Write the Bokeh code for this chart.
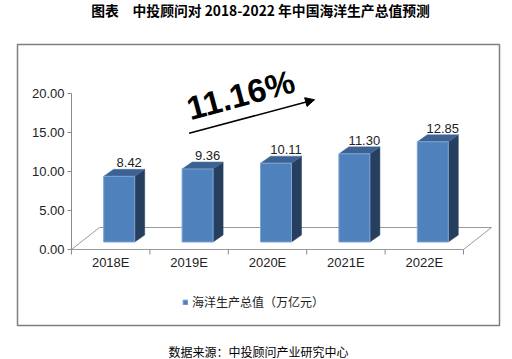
from bokeh.plotting import figure
from bokeh.models import Range1d, Arrow, NormalHead, Legend, LegendItem
from bokeh.core.properties import value
from bokeh.embed import file_html
from bokeh.resources import INLINE

# ---- data ----
categories = ["2018E", "2019E", "2020E", "2021E", "2022E"]
values = [8.42, 9.36, 10.11, 11.30, 12.85]
y_ticks = [0, 5, 10, 15, 20]
series_name = "海洋生产总值（万亿元）"
title_text = "图表　中投顾问对 2018-2022 年中国海洋生产总值预测"
source_text = "数据来源：中投顾问产业研究中心"
growth_text = "11.16%"
# growth arrow (category index, value)
arrow_start = (1.00, 14.9)
arrow_end = (2.60, 19.2)
growth_pos = (0.98, 18.0)

# ---- layout / scale ----
W, H = 512, 359
PX_PER_CAT = 78.4
PX_PER_VAL = 7.8
AX_X = 71      # screen x of value axis
AX_Y = 249     # screen y of zero line

def U(px):
    return (px - AX_X) / PX_PER_CAT - 0.5

def V(py):
    return (AX_Y - py) / PX_PER_VAL

def du(dpx):
    return dpx / PX_PER_CAT

def dv(dpx):
    return dpx / PX_PER_VAL

FONT = value("Liberation Sans")
CJK = value("Noto Sans CJK SC")

p = figure(width=W, height=H, output_backend="svg", toolbar_location=None,
           x_range=Range1d(U(0), U(W)), y_range=Range1d(V(H), V(0)),
           min_border=0)
p.axis.visible = False
p.grid.visible = False
p.outline_line_color = None
p.background_fill_color = "white"
p.styles = {"position": "absolute", "top": "0px", "left": "0px"}

# outer frame
p.quad(left=[U(17)], right=[U(499)], top=[V(44)], bottom=[V(325)],
       fill_color=None, line_color="#7f7f7f", line_width=1.5)

# floor (3D base)
DEP_X, DEP_Y = 28, 22
n = len(categories)
xl, xr = -0.5, n - 0.5
p.multi_line(xs=[[xl, xr], [xr, xr + du(DEP_X)], [xl + du(DEP_X), xr + du(DEP_X)], [xl, xl + du(DEP_X)]],
             ys=[[0, 0], [0, dv(DEP_Y)], [dv(DEP_Y), dv(DEP_Y)], [0, dv(DEP_Y)]],
             line_color="#9a9a9a", line_width=1)

# value axis
p.segment(x0=[xl], y0=[y_ticks[0]], x1=[xl], y1=[y_ticks[-1]], line_color="#8a8a8a", line_width=1)
p.segment(x0=[xl - du(4)] * len(y_ticks), y0=y_ticks, x1=[xl] * len(y_ticks), y1=y_ticks,
          line_color="#8a8a8a", line_width=1)
p.text(x=[xl - du(7)] * len(y_ticks), y=y_ticks, text=["%.2f" % t for t in y_ticks],
       text_align="right", text_baseline="middle", text_font=FONT,
       text_font_size="13px", text_color="#222222")

# category axis ticks + labels
bounds = [i - 0.5 for i in range(n + 1)]
p.segment(x0=bounds, y0=[0] * len(bounds), x1=bounds, y1=[-dv(5)] * len(bounds),
          line_color="#8a8a8a", line_width=1)
p.text(x=list(range(n)), y=[-dv(13)] * n, text=categories, text_align="center",
       text_baseline="middle", text_font=FONT, text_font_size="13px", text_color="#222222")

# 3D bars
FX, FY = 8.5, 7.5     # front face offset
BX, BY = 10, 7        # bar depth
HW = 15.5             # half width px
front_xs, front_ys, top_xs, top_ys, side_xs, side_ys = [], [], [], [], [], []
for i, v in enumerate(values):
    L = i + du(FX - HW)
    R = i + du(FX + HW)
    B = dv(FY)
    T = v + dv(FY)
    front_xs.append([L, R, R, L]); front_ys.append([B, B, T, T])
    top_xs.append([L, R, R + du(BX), L + du(BX)]); top_ys.append([T, T, T + dv(BY), T + dv(BY)])
    side_xs.append([R, R + du(BX), R + du(BX), R]); side_ys.append([T, T + dv(BY), B + dv(BY), B])

side = p.patches(side_xs, side_ys, fill_color="#263F5F", line_color="#263F5F", line_width=0.5)
top = p.patches(top_xs, top_ys, fill_color="#3C6294", line_color="#4A70A3", line_width=0.5)
front = p.patches(front_xs, front_ys, fill_color="#4F81BD", line_color="#7FA3D3", line_width=1)

# value labels
p.text(x=[i + du(FX + BX) for i in range(n)], y=[v + dv(FY + BY + 2) for v in values],
       text=["%.2f" % v for v in values], text_align="center", text_baseline="bottom",
       text_font=FONT, text_font_size="13px", text_color="#222222")

# growth arrow and label
p.add_layout(Arrow(end=NormalHead(size=9, fill_color="black", line_color="black"),
                   x_start=arrow_start[0], y_start=arrow_start[1],
                   x_end=arrow_end[0], y_end=arrow_end[1],
                   line_color="black", line_width=1.5))
p.text(x=[growth_pos[0]], y=[growth_pos[1]], text=[growth_text], angle=15, angle_units="deg",
       text_align="left", text_baseline="alphabetic", text_font=FONT,
       text_font_size="33px", text_font_style="bold", text_color="black")

# title and source
p.text(x=[U(260)], y=[V(9)], text=[title_text], text_align="center", text_baseline="middle",
       text_font=CJK, text_font_size="13.8px", text_font_style="bold", text_color="black")
p.text(x=[U(258)], y=[V(351)], text=[source_text], text_align="center", text_baseline="middle",
       text_font=CJK, text_font_size="12px", text_color="black")

# legend
legend = Legend(items=[LegendItem(label=series_name, renderers=[front])],
                location=(182, 49), orientation="horizontal",
                glyph_width=6, glyph_height=6, label_height=14, label_standoff=4,
                padding=0, margin=0, border_line_color=None, background_fill_alpha=0,
                label_text_font="Noto Sans CJK SC", label_text_font_size="12px",
                label_text_color="#222222")
p.add_layout(legend)

open("out.html", "w").write(file_html(p, INLINE))
